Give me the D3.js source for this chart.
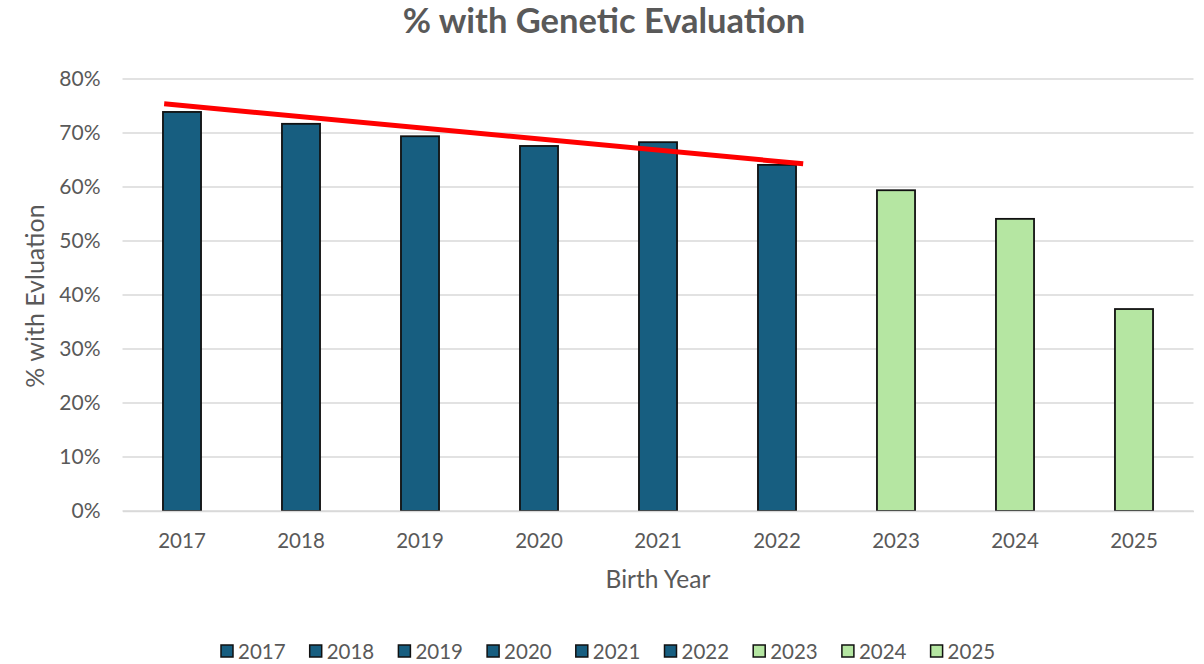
<!DOCTYPE html>
<html><head><meta charset="utf-8">
<script src="https://cdn.jsdelivr.net/npm/d3@7"></script>
<style>body{margin:0;background:#fff;} text{font-family:Lato,"Open Sans",sans-serif;fill:#595959;}</style>
</head><body><svg id="c" width="1204" height="664"></svg>
<script>
const categories = ["2017","2018","2019","2020","2021","2022","2023","2024","2025"];
const values = [73.9, 71.7, 69.4, 67.6, 68.3, 64.1, 59.4, 54.1, 37.4];
const groups = ["actual","actual","actual","actual","actual","actual","recent","recent","recent"];
const yTicks = [0,10,20,30,40,50,60,70,80];
const trendIdx = [-0.15, 5.22];
const trendVals = [75.4, 64.3];
const colors = {actual:"#175E80", recent:"#B5E6A2"};

const svg = d3.select("#c");
const m = {l:122.5, r:1193.5, t:79, b:511};
const x = d3.scaleBand().domain(categories).range([m.l, m.r]).paddingInner(0.68).paddingOuter(0.34);
const y = d3.scaleLinear().domain([0,80]).range([m.b, m.t]);
const xi = d3.scaleLinear().domain([0,1]).range([x(categories[0])+x.bandwidth()/2, x(categories[1])+x.bandwidth()/2]);

svg.append("text").attr("x",604).attr("y",33).attr("text-anchor","middle")
  .style("font-size","34.5px").style("font-weight","bold").text("% with Genetic Evaluation");

// gridlines
svg.append("g").selectAll("line").data(yTicks).join("line")
  .attr("x1",m.l).attr("x2",m.r).attr("y1",d=>y(d)).attr("y2",d=>y(d))
  .attr("stroke","#d9d9d9").attr("stroke-width",1.5);

// y axis labels
const ya = svg.append("g").attr("transform",`translate(${m.l},0)`)
  .call(d3.axisLeft(y).tickValues(yTicks).tickFormat(d=>d+"%").tickSize(0).tickPadding(22));
ya.select(".domain").remove();
ya.selectAll("text").style("font-size","21px").style("fill","#595959").style("font-family","Lato,'Open Sans',sans-serif");

// bars
svg.append("g").selectAll("rect").data(categories).join("rect")
  .attr("x",d=>x(d)).attr("width",x.bandwidth())
  .attr("y",(d,i)=>y(values[i])).attr("height",(d,i)=>y(0)-y(values[i]))
  .attr("fill",(d,i)=>colors[groups[i]]).attr("stroke","#111").attr("stroke-width",1.8);

// x axis
const xa = svg.append("g").attr("transform",`translate(0,${m.b})`)
  .call(d3.axisBottom(x).tickSize(0).tickPadding(22));
xa.select(".domain").attr("stroke","#d9d9d9").attr("stroke-width",1.5);
xa.selectAll("text").style("font-size","20.5px").style("fill","#595959").style("font-family","Lato,'Open Sans',sans-serif");

// trend line
svg.append("line")
  .attr("x1",xi(trendIdx[0])).attr("y1",y(trendVals[0]))
  .attr("x2",xi(trendIdx[1])).attr("y2",y(trendVals[1]))
  .attr("stroke","#FF0000").attr("stroke-width",5);

// axis titles
svg.append("text").attr("x",658).attr("y",588).attr("text-anchor","middle").style("font-size","24.5px").text("Birth Year");
svg.append("text").attr("transform","translate(44,296) rotate(-90)").attr("text-anchor","middle").style("font-size","25px").text("% with Evluation");

// legend
const lg = svg.append("g").selectAll("g").data(categories).join("g")
  .attr("transform",(d,i)=>`translate(${221 + i*88.7},645)`);
lg.append("rect").attr("width",12).attr("height",12)
  .attr("fill",(d,i)=>colors[groups[i]]).attr("stroke","#111").attr("stroke-width",1.5);
lg.append("text").attr("x",17).attr("y",13.5).style("font-size","20.5px").text(d=>d);
</script></body></html>
